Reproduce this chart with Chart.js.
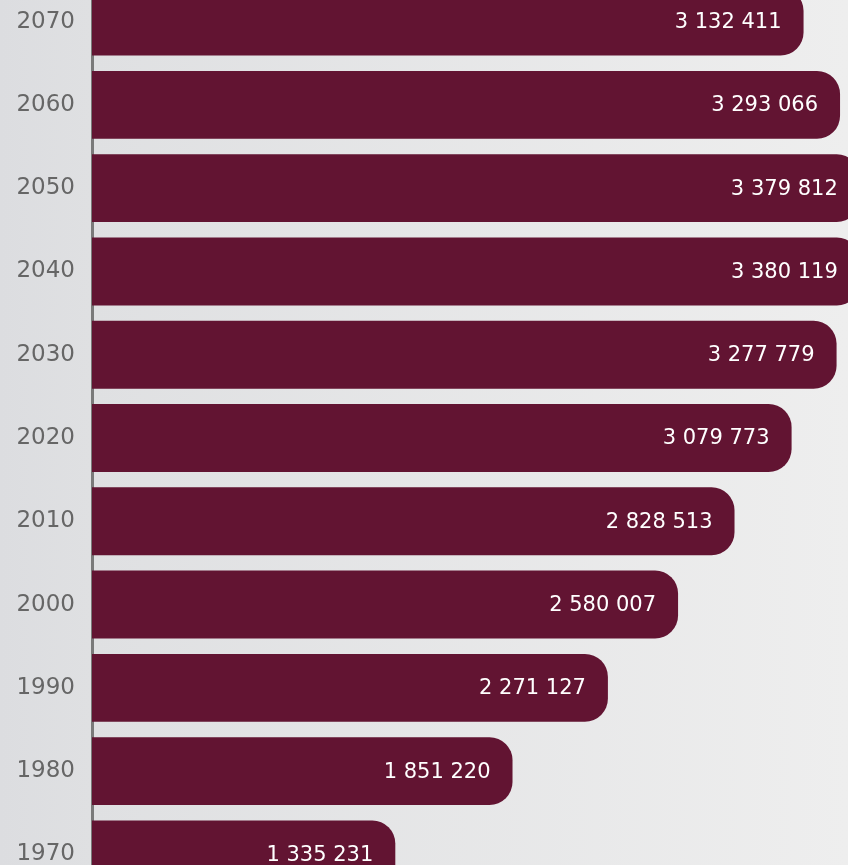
<!DOCTYPE html>
<html>
<head>
<meta charset="utf-8">
<script src="https://cdn.jsdelivr.net/npm/chart.js@4"></script>
<style>
    html, body {
        margin: 0;
        padding: 0;
        width: 848px;
        height: 865px;
        overflow: hidden;
        background: linear-gradient(to right, #dcdde0 0px, #dfe0e2 92px, #eeeeee 848px);
    }
    .wrap {
        position: absolute;
        left: 0;
        top: -20px;
        width: 900px;
        height: 916px;
    }
</style>
</head>
<body>
<div class="wrap"><canvas id="popChart"></canvas></div>
<script>
// Data
const years = ['2070', '2060', '2050', '2040', '2030', '2020', '2010', '2000', '1990', '1980', '1970'];
const population = [3132411, 3293066, 3379812, 3380119, 3277779, 3079773, 2828513, 2580007, 2271127, 1851220, 1335231];
const xMax = 3557000;

const barColor = '#621432';

// Format with space as thousands separator
function formatNumber(n) {
    return String(n).replace(/\B(?=(\d{3})+(?!\d))/g, ' ');
}

// Value labels drawn inside the bar ends
const valueLabels = {
    id: 'valueLabels',
    afterDatasetsDraw(chart) {
        const ctx = chart.ctx;
        const meta = chart.getDatasetMeta(0);
        ctx.save();
        ctx.fillStyle = '#ffffff';
        ctx.font = '21px "DejaVu Sans"';
        ctx.textAlign = 'right';
        ctx.textBaseline = 'middle';
        meta.data.forEach((bar, i) => {
            ctx.fillText(formatNumber(population[i]), bar.x - 22, bar.y + 1);
        });
        ctx.restore();
    }
};

new Chart(document.getElementById('popChart'), {
    type: 'bar',
    data: {
        labels: years,
        datasets: [{
            data: population,
            backgroundColor: barColor,
            borderWidth: 0,
            borderRadius: 23,
            borderSkipped: 'start',
            categoryPercentage: 1,
            barPercentage: 0.815
        }]
    },
    options: {
        indexAxis: 'y',
        responsive: true,
        maintainAspectRatio: false,
        animation: false,
        layout: { padding: 0 },
        plugins: {
            legend: { display: false },
            tooltip: { enabled: false }
        },
        scales: {
            x: {
                display: false,
                min: 0,
                max: xMax
            },
            y: {
                grid: { display: false, drawTicks: false },
                border: { display: true, color: '#7a7a7a', width: 3 },
                ticks: {
                    color: '#666666',
                    padding: 17,
                    font: { family: 'DejaVu Sans', size: 23 }
                },
                afterFit(scale) {
                    scale.width = 92;
                    scale.paddingTop = 0;
                    scale.paddingBottom = 0;
                }
            }
        }
    },
    plugins: [valueLabels]
});
</script>
</body>
</html>
